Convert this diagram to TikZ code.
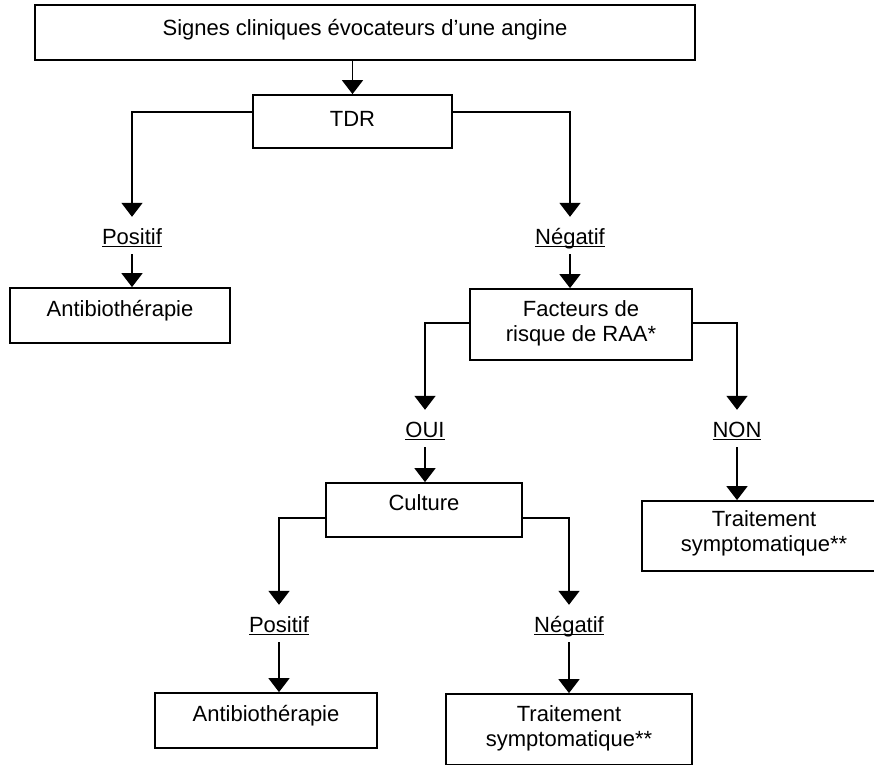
\documentclass[tikz,border=0pt]{standalone}
\usepackage{fontspec}
\setmainfont{Liberation Sans}
\usepackage{tikz}
\usetikzlibrary{arrows.meta}

\newcommand{\souligne}[1]{\setbox0\hbox{#1}\rlap{\rule[-3pt]{\wd0}{1.5pt}}\box0}

\begin{document}
\begin{tikzpicture}[x=1pt,y=-1pt,
    box/.style={
      % The shape:
      rectangle,inner sep=4pt,align=center,
      text height=16pt,text depth=#1,
      % Border
      line width=1.8pt,draw=black,
      font=\fontsize{22}{25}\selectfont
      },
    twolines/.style={text height=41pt},
    tag/.style={inner sep=0pt,anchor=base,
      text height=16pt,text depth=4pt,
      font=\fontsize{22}{25}\selectfont},
    arr/.style={-{Triangle[width=21pt,length=14pt]},line width=1.8pt},
    into/.style={arr,shorten >=11pt},
    from/.style={arr,shorten <=6pt}]
  \useasboundingbox (0,0) rectangle (874,764);
  \node (top) [box=11pt, minimum width=660pt, minimum height=55pt] at (365,32.5) {Signes cliniques évocateurs d’une angine};
  \node (tdr) [box=7pt, minimum width=199pt, minimum height=53pt] at (352.5,121.5) {TDR};
  \node (pos1) [tag] at (132,244) {\souligne{Positif}};
  \node (neg1) [tag] at (570,244) {\souligne{Négatif}};
  \node (ab1) [box=15pt, minimum width=220pt, minimum height=55pt] at (120,315.5) {Antibiothérapie};
  \node (fact) [box=8pt, twolines, minimum width=222pt, minimum height=71pt] at (581,324.5) {Facteurs de\\risque de RAA*};
  \node (oui) [tag] at (425,437) {\souligne{OUI}};
  \node (non) [tag] at (737,437) {\souligne{NON}};
  \node (cult) [box=16pt, minimum width=196pt, minimum height=54pt] at (424,510) {Culture};
  \node (trait1) [box=11pt, twolines, minimum width=244pt, minimum height=70pt] at (764,536) {Traitement\\symptomatique**};
  \node (pos2) [tag] at (279,632) {\souligne{Positif}};
  \node (neg2) [tag] at (569,632) {\souligne{Négatif}};
  \node (ab2) [box=15pt, minimum width=222pt, minimum height=55pt] at (266,720.5) {Antibiothérapie};
  \node (trait2) [box=8pt, twolines, minimum width=246pt, minimum height=71pt] at (569,729.5) {Traitement\\symptomatique**};
  % first test
  \draw [arr] (tdr.north |- top.south) -- (tdr.north);
  \draw [into] ([yshift=9.5pt]tdr.west) -| (pos1.north);
  \draw [into] ([yshift=9.5pt]tdr.east) -| (neg1.north);
  \draw [from] (pos1.south) -- (pos1.south |- ab1.north);
  \draw [from] (neg1.south) -- (neg1.south |- fact.north);
  % risk factors
  \draw [into] ([yshift=1.5pt]fact.west) -| (oui.north);
  \draw [into] ([yshift=1.5pt]fact.east) -| (non.north);
  \draw [from] (oui.south) -- (oui.south |- cult.north);
  \draw [from] (non.south) -- (non.south |- trait1.north);
  % culture
  \draw [into] ([yshift=-8pt]cult.west) -| (pos2.north);
  \draw [into] ([yshift=-8pt]cult.east) -| (neg2.north);
  \draw [from] (pos2.south) -- (pos2.south |- ab2.north);
  \draw [from] (neg2.south) -- (neg2.south |- trait2.north);
\end{tikzpicture}
\end{document}
